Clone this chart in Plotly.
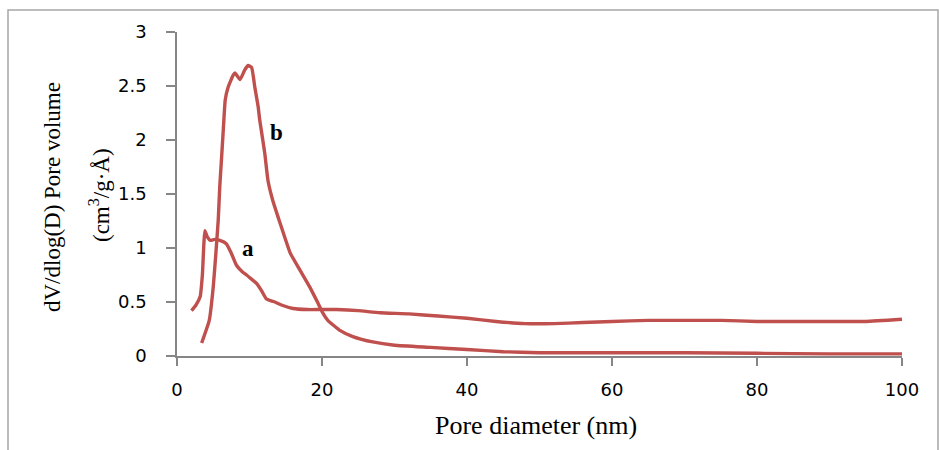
import plotly.graph_objects as go

# Curve a
a_x = [2.0, 2.6, 3.2, 3.5, 3.85, 4.2, 4.6, 5.2, 5.9, 6.8, 7.5, 8.2, 9.0, 9.6, 10.3, 11.0, 11.7, 12.3,
       13.0, 13.5, 14.5, 16, 18, 19.7, 22, 25, 28, 32, 36, 40, 44, 48, 52, 56, 60, 65, 70, 75, 80,
       85, 90, 95, 100]
a_y = [0.42, 0.47, 0.55, 0.75, 1.16, 1.10, 1.07, 1.08, 1.07, 1.04, 0.95, 0.84, 0.78, 0.75, 0.71, 0.67,
       0.60, 0.53, 0.51, 0.50, 0.47, 0.44, 0.43, 0.43, 0.43, 0.42, 0.40, 0.39, 0.37, 0.35, 0.32, 0.30,
       0.30, 0.31, 0.32, 0.33, 0.33, 0.33, 0.32, 0.32, 0.32, 0.32, 0.34]

# Curve b
b_x = [3.4, 4.45, 5.0, 5.36, 5.69, 5.9, 6.19, 6.46, 6.65, 7.06, 7.75, 8.0, 8.7, 9.35, 9.8, 10.3,
       10.73, 11.19, 11.42, 12.1, 12.56, 13.25, 14.07, 14.86, 15.64, 16.92, 18.3, 19.44, 20.1, 20.8,
       22.4, 24.25, 27, 30, 35, 40, 45, 50, 60, 70, 80, 90, 100]
b_y = [0.12, 0.33, 0.64, 0.95, 1.26, 1.57, 1.88, 2.18, 2.37, 2.49, 2.60, 2.62, 2.56, 2.65, 2.69, 2.67,
       2.49, 2.31, 2.18, 1.88, 1.62, 1.43, 1.26, 1.10, 0.95, 0.80, 0.64, 0.49, 0.40, 0.33, 0.24, 0.18,
       0.13, 0.10, 0.08, 0.06, 0.04, 0.03, 0.03, 0.03, 0.025, 0.02, 0.02]

x_ticks = [0, 20, 40, 60, 80, 100]
y_ticks = [0, 0.5, 1, 1.5, 2, 2.5, 3]
y_tick_text = ["0", "0.5", "1", "1.5", "2", "2.5", "3"]

LINE = "#C0504D"
AXIS = "#868686"

fig = go.Figure()
for xs, ys in ((a_x, a_y), (b_x, b_y)):
    fig.add_trace(go.Scatter(x=xs, y=ys, mode="lines",
                             line=dict(color=LINE, width=3.4, shape="spline", smoothing=0.4),
                             showlegend=False, hoverinfo="skip"))

fig.update_layout(
    width=939, height=450,
    margin=dict(l=177, r=37, t=32, b=94),
    paper_bgcolor="white", plot_bgcolor="white",
    font=dict(family="DejaVu Sans", size=18, color="#000000"),
    showlegend=False,
)
fig.update_xaxes(range=[0, 100], tickvals=x_ticks, showgrid=False, zeroline=False,
                 showline=True, linecolor=AXIS, linewidth=1.5,
                 ticks="outside", ticklen=8, tickcolor=AXIS, tickwidth=1.5,
                 ticklabelstandoff=9)
fig.update_yaxes(range=[0, 3], tickvals=y_ticks, ticktext=y_tick_text, showgrid=False, zeroline=False,
                 showline=True, linecolor=AXIS, linewidth=1.5,
                 ticks="outside", ticklen=9, tickcolor=AXIS, tickwidth=1.5,
                 ticklabelstandoff=16)

serif = "Liberation Serif"
fig.add_annotation(text="dV/dlog(D) Pore volume", textangle=-90,
                   xref="paper", yref="paper", x=(52 - 177) / 725, y=(356 - 197) / 324,
                   xanchor="center", yanchor="middle", showarrow=False,
                   font=dict(family=serif, size=23, color="#000000"))
fig.add_annotation(text="(cm<sup>3</sup>/g·Å)", textangle=-90,
                   xref="paper", yref="paper", x=(99 - 177) / 725, y=(356 - 195) / 324,
                   xanchor="center", yanchor="middle", showarrow=False,
                   font=dict(family=serif, size=23, color="#000000"))
fig.add_annotation(text="Pore diameter (nm)", xref="paper", yref="paper",
                   x=(536 - 177) / 725, y=(356 - 425) / 324,
                   xanchor="center", yanchor="middle",
                   showarrow=False, font=dict(family=serif, size=26, color="#000000"))
fig.add_annotation(text="<b>a</b>", x=9.8, y=1.0, showarrow=False,
                   xanchor="center", yanchor="middle",
                   font=dict(family=serif, size=23, color="#000000"))
fig.add_annotation(text="<b>b</b>", x=13.7, y=2.07, showarrow=False,
                   xanchor="center", yanchor="middle",
                   font=dict(family=serif, size=23, color="#000000"))

fig.add_shape(type="rect", xref="paper", yref="paper",
              x0=(8 - 177) / 725, x1=(938 - 177) / 725, y0=(356 - 460) / 324, y1=(356 - 10) / 324,
              line=dict(color="#A6A6A6", width=1.5), fillcolor="rgba(0,0,0,0)", layer="below")

fig.write_html("out.html", config={"displayModeBar": False},
               post_script="document.body.style.margin='0';document.body.style.overflow='hidden';")
